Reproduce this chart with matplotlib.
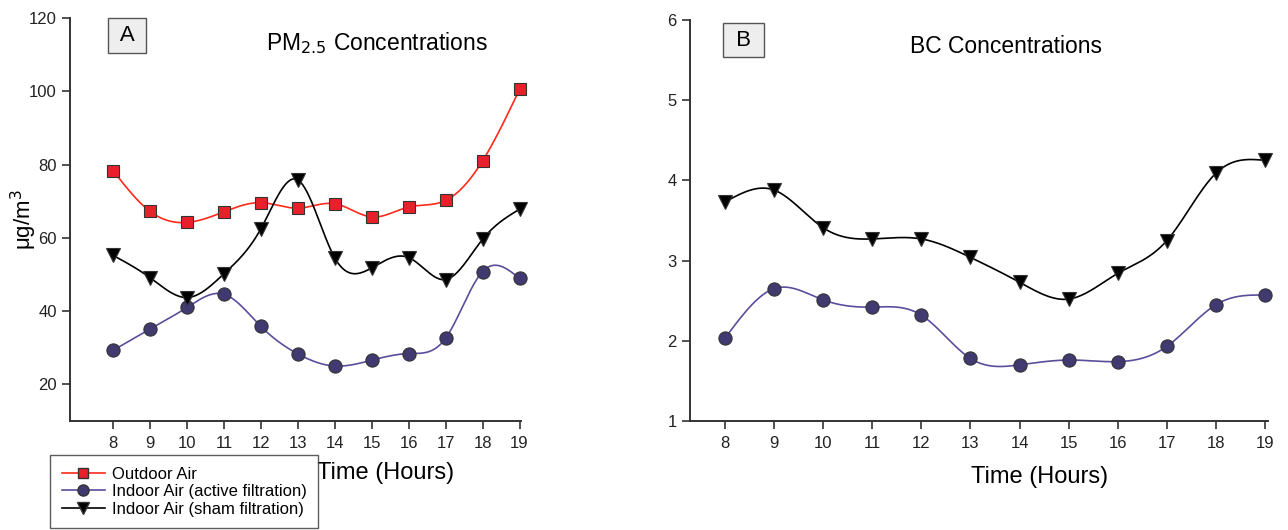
import numpy as np
import matplotlib
matplotlib.use("Agg")
import matplotlib.pyplot as plt
from matplotlib.lines import Line2D

plt.rcParams["font.family"] = ["Liberation Sans", "DejaVu Sans"]

hours = [8, 9, 10, 11, 12, 13, 14, 15, 16, 17, 18, 19]

pm_outdoor = [78.3, 67.2, 64.2, 67.1, 69.6, 68.1, 69.3, 65.7, 68.4, 70.2, 81.0, 100.5]
pm_active = [29.3, 35.1, 41.0, 44.6, 35.8, 28.3, 25.0, 26.6, 28.4, 32.6, 50.8, 48.9]
pm_sham = [55.2, 49.1, 43.7, 50.2, 62.5, 75.8, 54.5, 51.8, 54.6, 48.6, 59.6, 67.8]

bc_active = [2.03, 2.65, 2.51, 2.42, 2.32, 1.78, 1.70, 1.76, 1.74, 1.93, 2.45, 2.57]
bc_sham = [3.73, 3.88, 3.41, 3.27, 3.27, 3.04, 2.73, 2.52, 2.84, 3.25, 4.09, 4.25]

labels = ["Outdoor Air", "Indoor Air (active filtration)", "Indoor Air (sham filtration)"]

RED = "#ff2a1a"
RED_FACE = "#e8202a"
PURPLE = "#5d4c9c"
PURPLE_FACE = "#403a70"


def natural_spline(x, y, n=400):
    # natural cubic spline through the points, only used to draw the smooth line
    x = np.asarray(x, float)
    y = np.asarray(y, float)
    k = len(x)
    h = np.diff(x)
    A = np.zeros((k, k))
    b = np.zeros(k)
    A[0, 0] = A[-1, -1] = 1
    for i in range(1, k - 1):
        A[i, i - 1] = h[i - 1]
        A[i, i] = 2 * (h[i - 1] + h[i])
        A[i, i + 1] = h[i]
        b[i] = 6 * ((y[i + 1] - y[i]) / h[i] - (y[i] - y[i - 1]) / h[i - 1])
    M = np.linalg.solve(A, b)
    xs = np.linspace(x[0], x[-1], n)
    idx = np.clip(np.searchsorted(x, xs) - 1, 0, k - 2)
    x0, x1 = x[idx], x[idx + 1]
    hh = x1 - x0
    t0, t1 = x1 - xs, xs - x0
    ys = (M[idx] * t0**3 + M[idx + 1] * t1**3) / (6 * hh) \
        + (y[idx] / hh - M[idx] * hh / 6) * t0 \
        + (y[idx + 1] / hh - M[idx + 1] * hh / 6) * t1
    return xs, ys


def series(ax, y, color, face, marker, ms):
    xs, ys = natural_spline(hours, y)
    ax.plot(xs, ys, color=color, lw=1.2, zorder=2)
    ax.plot(hours, y, ls="none", marker=marker, ms=ms, mfc=face,
            mec="#333333", mew=0.8, zorder=3, clip_on=False)


def style(ax):
    for s in ("top", "right"):
        ax.spines[s].set_visible(False)
    for s in ("left", "bottom"):
        ax.spines[s].set_linewidth(1.4)
        ax.spines[s].set_color("#333333")
    ax.tick_params(direction="out", length=6, width=1.2, color="#333333",
                   labelsize=12, labelcolor="#222222")
    ax.tick_params(axis="x", pad=5)
    ax.set_xticks(hours)


box = dict(boxstyle="square,pad=0.3", fc="#eeeeee", ec="#555555", lw=1)

fig = plt.figure(figsize=(12.88, 5.3), dpi=100)

axA = fig.add_axes([0.0543, 0.2057, 0.3505, 0.7603])
series(axA, pm_outdoor, RED, RED_FACE, "s", 8.5)
series(axA, pm_active, PURPLE, PURPLE_FACE, "o", 9.5)
series(axA, pm_sham, "black", "black", "v", 9.5)
axA.set_xlim(6.83, 19.05)
axA.set_ylim(10, 120)
axA.set_yticks([20, 40, 60, 80, 100, 120])
style(axA)
fig.text(24 / 1288, 1 - 220 / 530, "μg/m$^3$", fontsize=16, rotation=90,
         ha="center", va="center")
axA.text(0.099, 0.983, " A ", transform=axA.transAxes, fontsize=16, va="top",
         ha="left", bbox=box)
axA.text(0.681, 0.97, "PM$_{2.5}$ Concentrations", transform=axA.transAxes,
         fontsize=16.5, ha="center", va="top")
fig.text(386 / 1288, 1 - 473 / 530, "Time (Hours)", fontsize=17, ha="center", va="center")

axB = fig.add_axes([0.5357, 0.2057, 0.4488, 0.7566])
series(axB, bc_active, PURPLE, PURPLE_FACE, "o", 9.5)
series(axB, bc_sham, "black", "black", "v", 9.5)
axB.set_xlim(7.29, 19.06)
axB.set_ylim(1, 6)
axB.set_yticks([1, 2, 3, 4, 5, 6])
style(axB)
axB.text(0.069, 0.976, " B ", transform=axB.transAxes, fontsize=16, va="top",
         ha="left", bbox=box)
axB.text(0.547, 0.962, "BC Concentrations", transform=axB.transAxes,
         fontsize=16.5, ha="center", va="top")
fig.text(1040 / 1288, 1 - 477 / 530, "Time (Hours)", fontsize=17, ha="center", va="center")

handles = [
    Line2D([], [], color=RED, marker="s", mfc=RED_FACE, mec="#333333", ms=7, lw=1.2),
    Line2D([], [], color=PURPLE, marker="o", mfc=PURPLE_FACE, mec="#333333", ms=8, lw=1.2),
    Line2D([], [], color="black", marker="v", mfc="black", mec="#333333", ms=8, lw=1.2),
]
leg = fig.legend(handles, labels, loc="upper left", bbox_to_anchor=(50 / 1288, 1 - 455 / 530),
                 borderaxespad=0, fontsize=12, frameon=True, fancybox=False,
                 edgecolor="#333333", handlelength=2.6, borderpad=0.7,
                 labelspacing=0.15, handletextpad=0.4)
leg.get_frame().set_linewidth(1)

fig.savefig("out.png", dpi=100)
